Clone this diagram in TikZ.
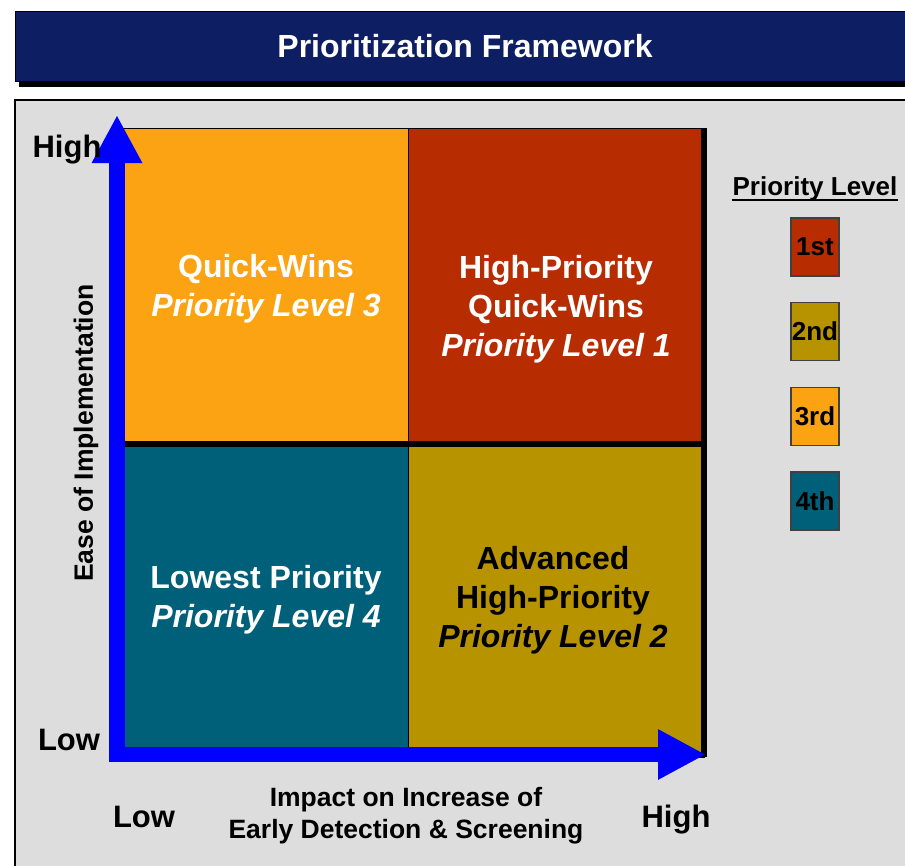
\documentclass[tikz,border=0pt]{standalone}
\usepackage{fontspec}
\setmainfont{Liberation Sans}
\usetikzlibrary{arrows.meta}

\definecolor{navy}{RGB}{13,30,98}
\definecolor{panel}{RGB}{221,221,221}
\definecolor{qorange}{RGB}{251,163,19}
\definecolor{qred}{RGB}{183,44,0}
\definecolor{qteal}{RGB}{0,96,122}
\definecolor{qgold}{RGB}{183,147,0}

\begin{document}
\begin{tikzpicture}[x=1pt, y=-1pt,
        quad/.style = {rectangle, draw=black, line width=1pt,
            inner sep=0pt, outer sep=0pt, anchor=north west},
        sep/.style = {line width=6pt},
        axis/.style = {draw=blue, line width=15.5pt,
            -{Triangle[length=48pt, width=47pt]}},
        qtext/.style = {align=center, font=\fontsize{32}{39}\selectfont\bfseries},
        axtext/.style = {anchor=base, font=\fontsize{31}{37}\selectfont\bfseries},
        legbox/.style = {rectangle, draw=black!75, line width=1.5pt,
            minimum width=48pt, minimum height=58pt, inner sep=0pt,
            font=\fontsize{26}{30}\selectfont\bfseries}]

        \useasboundingbox (0,0) rectangle (905,865);
        \clip (0,0) rectangle (905,865);

        % Title bar
        \fill[black] (18.5,16) rectangle (920,87);
        \node[rectangle, draw=black, fill=navy, line width=1pt,
            minimum width=905pt, minimum height=70.5pt, anchor=north west,
            inner sep=0pt] (titlebar) at (14.5,10.5) {};
        \node[anchor=base, text=white,
            font=\fontsize{32}{38}\selectfont\bfseries] (title)
            at (465,57.5) {Prioritization Framework};

        % Panel
        \draw[fill=panel, line width=2pt] (14.5,99.5) rectangle (920,880);

        % Quadrants
        \node[quad, fill=qorange, minimum width=291pt, minimum height=316pt] (q3) at (117,128) {};
        \node[quad, fill=qred, minimum width=296pt, minimum height=316pt] (q1) at (408,128) {};
        \node[quad, fill=qteal, minimum width=291pt, minimum height=313pt] (q4) at (117,444) {};
        \node[quad, fill=qgold, minimum width=296pt, minimum height=313pt] (q2) at (408,444) {};

        % Separators
        \draw[sep] (q3.south west) -- (q1.south east);
        \draw[sep] (q1.north east) -- (q2.south east);

        % Quadrant labels
        \node[qtext, text=white] (t3) at (266,289)
            {Quick-Wins\\\itshape Priority Level 3};
        \node[qtext, text=white] (t1) at (556,309)
            {High-Priority\\Quick-Wins\\\itshape Priority Level 1};
        \node[qtext, text=white] (t4) at (266,600)
            {Lowest Priority\\\itshape Priority Level 4};
        \node[qtext, text=black] (t2) at (553,600)
            {Advanced\\High-Priority\\\itshape Priority Level 2};

        % Axes
        \coordinate (origin) at (117,762);
        \coordinate (ytip) at (117,115);
        \coordinate (xstart) at (110,754.5);
        \coordinate (xtip) at (706,754.5);
        \draw[axis] (origin) -- (ytip);
        \draw[axis] (xstart) -- (xtip);

        % Axis labels
        \node[axtext] (yhigh) at (67,157) {High};
        \node[axtext] (ylow) at (69,750) {Low};
        \node[axtext] (xlow) at (144,827) {Low};
        \node[axtext] (xhigh) at (676,827) {High};
        \node[align=center, font=\fontsize{26.5}{32}\selectfont\bfseries] (xtitle)
            at (406,816) {Impact on Increase of\\Early Detection \& Screening};
        \node[rotate=90, font=\fontsize{26.5}{32}\selectfont\bfseries] (ytitle)
            at (86,433) {Ease of Implementation};

        % Legend
        \node[anchor=base, font=\fontsize{26}{30}\selectfont\bfseries] (legtitle)
            at (815,195) {Priority Level};
        \draw[line width=2pt] (732,199.5) -- (898,199.5);
        \node[legbox, fill=qred] (l1) at (815,247) {1st};
        \node[legbox, fill=qgold] (l2) at (815,331.5) {2nd};
        \node[legbox, fill=qorange] (l3) at (815,416.5) {3rd};
        \node[legbox, fill=qteal] (l4) at (815,501) {4th};

    \end{tikzpicture}
\end{document}
